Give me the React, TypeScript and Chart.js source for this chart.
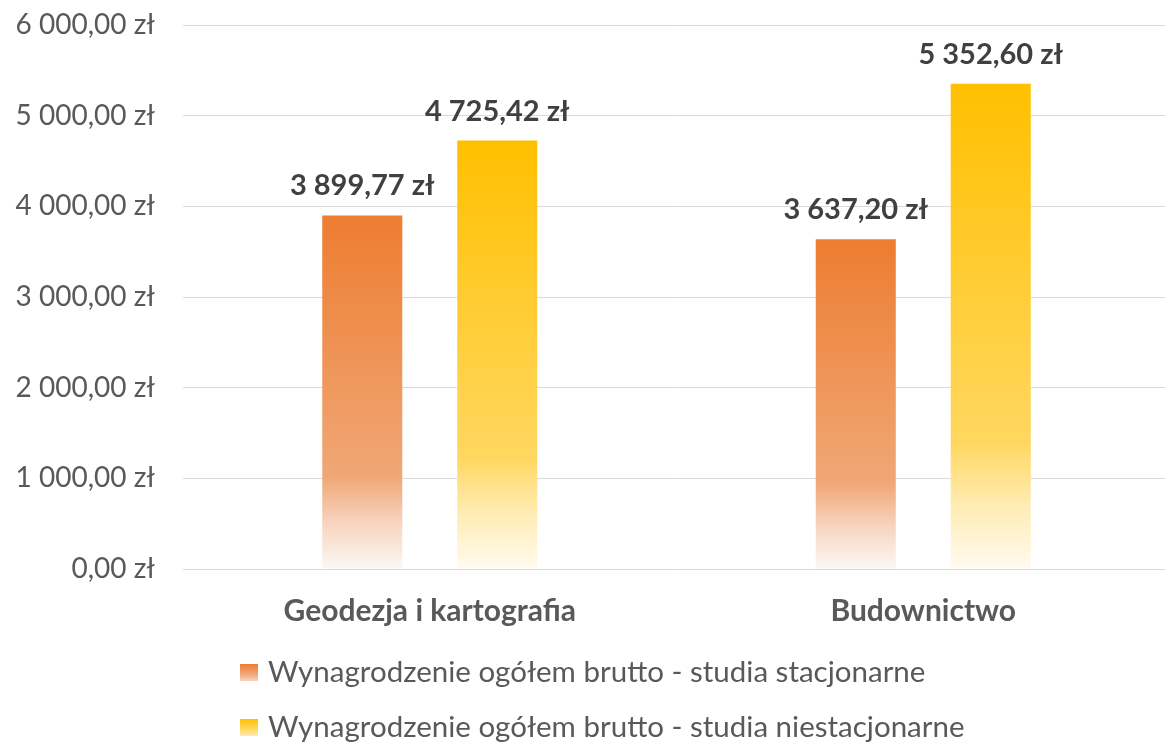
import React, { useEffect, useRef } from "react";
import { Chart, registerables } from "chart.js";

Chart.register(...registerables);

const categories = ["Geodezja i kartografia", "Budownictwo"];
const seriesLabels = [
  "Wynagrodzenie ogółem brutto - studia stacjonarne",
  "Wynagrodzenie ogółem brutto - studia niestacjonarne",
];
const stacjonarne = [3899.77, 3637.2];
const niestacjonarne = [4725.42, 5352.6];
const yTickMax = 6000;
const yTickStep = 1000;

const FONT = "Lato";
const TEXT_GRAY = "#595959";
const LABEL_DARK = "#404040";

const orangeStops: [number, string][] = [
  [0, "rgb(237,125,49)"],
  [0.74, "rgb(240,167,118)"],
  [0.87, "rgb(247,212,191)"],
  [1, "rgb(252,248,246)"],
];
const yellowStops: [number, string][] = [
  [0, "rgb(255,192,0)"],
  [0.74, "rgb(255,215,96)"],
  [0.87, "rgb(255,236,180)"],
  [1, "rgb(255,251,240)"],
];

function formatPLN(v: number): string {
  const [i, d] = v.toFixed(2).split(".");
  const withSpaces = i.replace(/\B(?=(\d{3})+(?!\d))/g, " ");
  return `${withSpaces},${d} zł`;
}

function gradient(ctx: CanvasRenderingContext2D, top: number, bottom: number, stops: [number, string][]) {
  const g = ctx.createLinearGradient(0, top, 0, bottom);
  stops.forEach(([o, c]) => g.addColorStop(o, c));
  return g;
}

function barFill(stops: [number, string][]) {
  return (c: any) => {
    const chart = c.chart;
    const ys = chart.scales?.y;
    if (!ys || !chart.chartArea || c.type !== "data") return stops[0][1];
    const top = ys.getPixelForValue(c.raw);
    const bottom = ys.getPixelForValue(0);
    if (!isFinite(top) || !isFinite(bottom) || top === bottom) return stops[0][1];
    return gradient(chart.ctx, top, bottom, stops);
  };
}

const valueLabelPlugin = {
  id: "valueLabels",
  afterDatasetsDraw(chart: any) {
    const ctx = chart.ctx as CanvasRenderingContext2D;
    ctx.save();
    ctx.font = `bold 29px ${FONT}`;
    ctx.fillStyle = LABEL_DARK;
    ctx.textAlign = "center";
    ctx.textBaseline = "alphabetic";
    chart.data.datasets.forEach((ds: any, di: number) => {
      const meta = chart.getDatasetMeta(di);
      meta.data.forEach((el: any, i: number) => {
        ctx.fillText(formatPLN(ds.data[i]), el.x, el.y - 20);
      });
    });
    ctx.restore();
  },
};

const legendPlugin = {
  id: "customLegend",
  afterDraw(chart: any) {
    const ctx = chart.ctx as CanvasRenderingContext2D;
    const rows = [672, 727];
    const stopsList = [orangeStops, yellowStops];
    ctx.save();
    chart.data.datasets.forEach((ds: any, i: number) => {
      const cy = rows[i];
      const bx = 240;
      const by = cy - 8;
      ctx.fillStyle = gradient(ctx, by, by + 17, [
        [0, stopsList[i][0][1]],
        [0.6, stopsList[i][1][1]],
        [1, stopsList[i][2][1]],
      ]);
      ctx.fillRect(bx, by, 18, 17);
      ctx.font = `29.5px ${FONT}`;
      ctx.fillStyle = TEXT_GRAY;
      ctx.textAlign = "left";
      ctx.textBaseline = "middle";
      ctx.fillText(ds.label, 268, cy);
    });
    ctx.restore();
  },
};

export default function App() {
  const ref = useRef<HTMLCanvasElement>(null);

  useEffect(() => {
    if (!ref.current) return;
    const chart = new Chart(ref.current, {
      type: "bar",
      data: {
        labels: categories,
        datasets: [
          {
            label: seriesLabels[0],
            data: stacjonarne,
            backgroundColor: barFill(orangeStops) as any,
            borderWidth: 0,
            categoryPercentage: 0.547,
            barPercentage: 0.593,
          },
          {
            label: seriesLabels[1],
            data: niestacjonarne,
            backgroundColor: barFill(yellowStops) as any,
            borderWidth: 0,
            categoryPercentage: 0.547,
            barPercentage: 0.593,
          },
        ],
      },
      options: {
        responsive: false,
        animation: false,
        layout: { padding: { top: 25, bottom: 103, left: 0, right: 0 } },
        plugins: {
          legend: { display: false },
          tooltip: { enabled: false },
        },
        scales: {
          x: {
            grid: { display: false, drawTicks: false },
            border: { display: false },
            ticks: {
              font: { family: FONT, size: 30, weight: "bold" },
              color: TEXT_GRAY,
              padding: 24,
            },
            afterFit: (s: any) => {
              s.height = 70;
              s.paddingLeft = 0;
              s.paddingRight = 0;
            },
          },
          y: {
            min: 0,
            max: yTickMax,
            grid: { color: "#d9d9d9", lineWidth: 1, drawTicks: false },
            border: { display: false },
            ticks: {
              stepSize: yTickStep,
              font: { family: FONT, size: 28 },
              color: TEXT_GRAY,
              padding: 28,
              callback: (v: any) => formatPLN(Number(v)),
            },
            afterFit: (s: any) => {
              s.width = 183;
              s.paddingTop = 0;
              s.paddingBottom = 0;
            },
          },
        },
      },
      plugins: [valueLabelPlugin, legendPlugin],
    });
    return () => chart.destroy();
  }, []);

  return (
    <div
      style={{
        position: "fixed",
        left: 0,
        top: 0,
        width: 1165,
        height: 742,
        overflow: "hidden",
        background: "#ffffff",
      }}
    >
      <canvas ref={ref} width={1170} height={742} style={{ display: "block" }} />
    </div>
  );
}
